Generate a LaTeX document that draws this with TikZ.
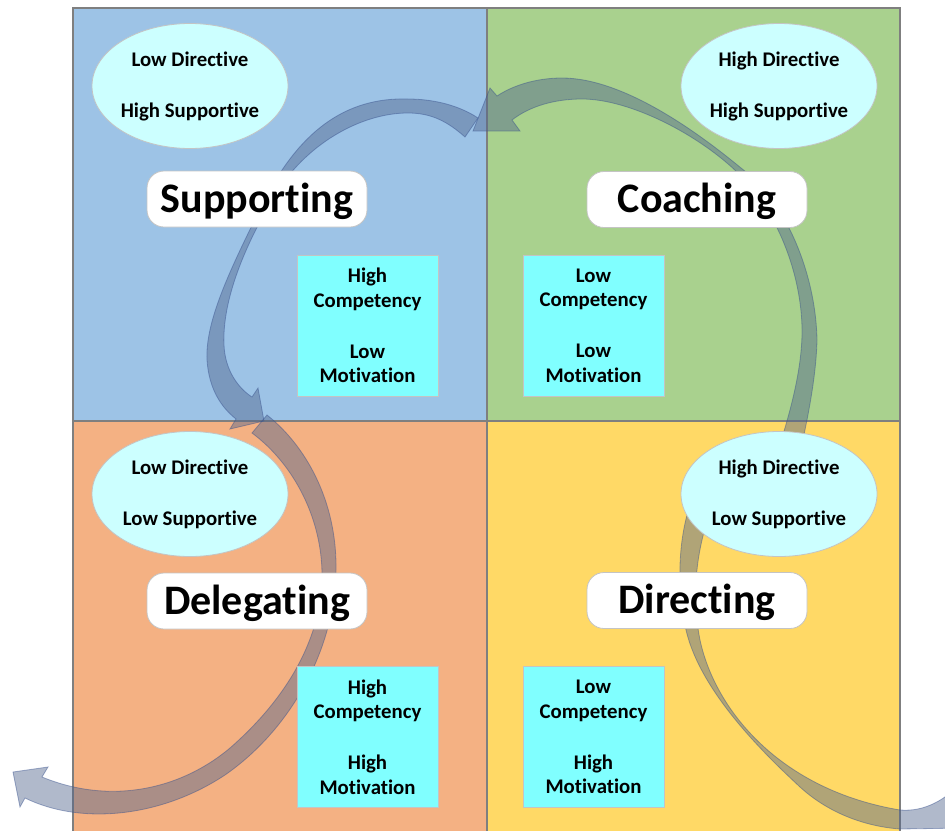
\documentclass[tikz,border=0pt]{standalone}
\usepackage{fontspec}
\setmainfont{Carlito}[Ligatures=NoCommon]
\usetikzlibrary{shapes.geometric}
\definecolor{qblue}{HTML}{9DC3E6}
\definecolor{qgreen}{HTML}{A9D18E}
\definecolor{qorange}{HTML}{F4B183}
\definecolor{qyellow}{HTML}{FFD966}
\definecolor{ovalfill}{HTML}{CCFFFF}
\definecolor{boxfill}{HTML}{80FFFF}
\definecolor{arrowfill}{RGB}{80,100,140}
\definecolor{arrowline}{RGB}{55,80,140}
\definecolor{frameline}{HTML}{7F7F7F}
\definecolor{softline}{HTML}{C4C4C4}

\begin{document}
\begin{tikzpicture}[x=1pt,y=-1pt,
  quadrant/.style={draw=frameline, line width=1.2pt},
  oval/.style={ellipse, draw=softline, fill=ovalfill, line width=0.8pt,
    inner sep=0pt, minimum width=196pt, minimum height=125pt, align=center,
    font=\bfseries\fontsize{20.8}{24}\selectfont},
  stylebox/.style={rectangle, rounded corners=17pt, draw=softline, fill=white,
    line width=0.8pt, minimum width=220pt, minimum height=56pt, inner sep=0pt,
    text height=28pt, text depth=2pt,
    font=\bfseries\fontsize{42}{50}\selectfont},
  statebox/.style={rectangle, draw=softline, fill=boxfill, line width=0.8pt,
    minimum width=141pt, minimum height=141pt, inner sep=0pt, align=center,
    font=\bfseries\fontsize{20.8}{24.5}\selectfont},
  bandarrow/.style={fill=arrowfill, fill opacity=0.45, draw=arrowline,
    draw opacity=0.45, line width=0.8pt, line join=miter}
]
\clip (0,0) rectangle (945,830);

% four quadrants
\path[quadrant, fill=qblue]   (73,8)    rectangle (487,421);
\path[quadrant, fill=qgreen]  (487,8)   rectangle (900,421);
\path[quadrant, fill=qorange] (73,421)  rectangle (487,845);
\path[quadrant, fill=qyellow] (487,421) rectangle (900,845);

% curved band arrows of the cycle: inner edge, arrow head, outer edge
% Coaching -> Supporting
\path[bandarrow]
  (770,475) .. controls (785,430) and (801,380) .. (802,335)
  .. controls (803,280) and (780,215) .. (740,175)
  .. controls (700,135) and (630,99) .. (582,99)
  .. controls (555,99) and (530,106) .. (512,120)
  -- (520,131) -- (473,131) -- (490,88) -- (497,96)
  .. controls (512,86) and (535,78) .. (562,78)
  .. controls (622,78) and (695,130) .. (741,168)
  .. controls (790,205) and (816,280) .. (817,340)
  .. controls (816,385) and (803,440) .. (795,475)
  -- cycle;
% Supporting -> Delegating
\path[bandarrow]
  (465,137) .. controls (448,122) and (432,113) .. (408,113)
  .. controls (360,113) and (305,145) .. (275,195)
  .. controls (245,245) and (222,300) .. (224,345)
  .. controls (225,370) and (238,388) .. (252,397)
  -- (258,388) -- (264,421) -- (230,429) -- (236,419)
  .. controls (222,408) and (209,390) .. (207,360)
  .. controls (205,320) and (232,266) .. (262,205)
  .. controls (298,132) and (345,97) .. (408,99)
  .. controls (435,99) and (460,106) .. (478,118)
  -- cycle;
% Delegating -> out of the grid
\path[bandarrow]
  (252,433) .. controls (295,465) and (322,520) .. (322,575)
  .. controls (322,640) and (285,700) .. (230,748)
  .. controls (180,790) and (110,805) .. (42,777)
  -- (48,767) -- (13,772) -- (20,807) -- (25,798)
  .. controls (80,825) and (160,818) .. (225,775)
  .. controls (290,730) and (335,650) .. (336,570)
  .. controls (337,500) and (305,445) .. (267,415)
  -- cycle;
% Directing -> out of the grid
\path[bandarrow]
  (715,500) .. controls (698,540) and (690,590) .. (700,640)
  .. controls (715,710) and (780,790) .. (900,810)
  .. controls (925,812) and (945,800) .. (965,780)
  -- (965,828) -- (900,829)
  .. controls (860,826) and (825,810) .. (800,787)
  .. controls (760,750) and (700,690) .. (686,630)
  .. controls (675,580) and (680,530) .. (692,500)
  -- cycle;

% leadership behaviour ovals
\node[oval] (ovalSup)  at (190,86)  {Low Directive\\[27pt]High Supportive};
\node[oval] (ovalCoa)  at (779,86)  {High Directive\\[27pt]High Supportive};
\node[oval] (ovalDel)  at (190,494) {Low Directive\\[27pt]Low Supportive};
\node[oval] (ovalDir)  at (779,494) {High Directive\\[27pt]Low Supportive};

% style names
\node[stylebox] (styleSup) at (257,199)   {Supporting};
\node[stylebox] (styleCoa) at (697,199.5) {Coaching};
\node[stylebox] (styleDel) at (257,601)   {Delegating};
\node[stylebox] (styleDir) at (697,600.5) {Directing};

% follower development levels
\node[statebox] (devSup) at (367.5,325.5) {High\\Competency\\[26.5pt]Low\\Motivation};
\node[statebox] (devCoa) at (593.5,325.5) {Low\\Competency\\[26.5pt]Low\\Motivation};
\node[statebox] (devDel) at (367.5,737)   {High\\Competency\\[26.5pt]High\\Motivation};
\node[statebox] (devDir) at (593.5,737)   {Low\\Competency\\[26.5pt]High\\Motivation};
\end{tikzpicture}
\end{document}
